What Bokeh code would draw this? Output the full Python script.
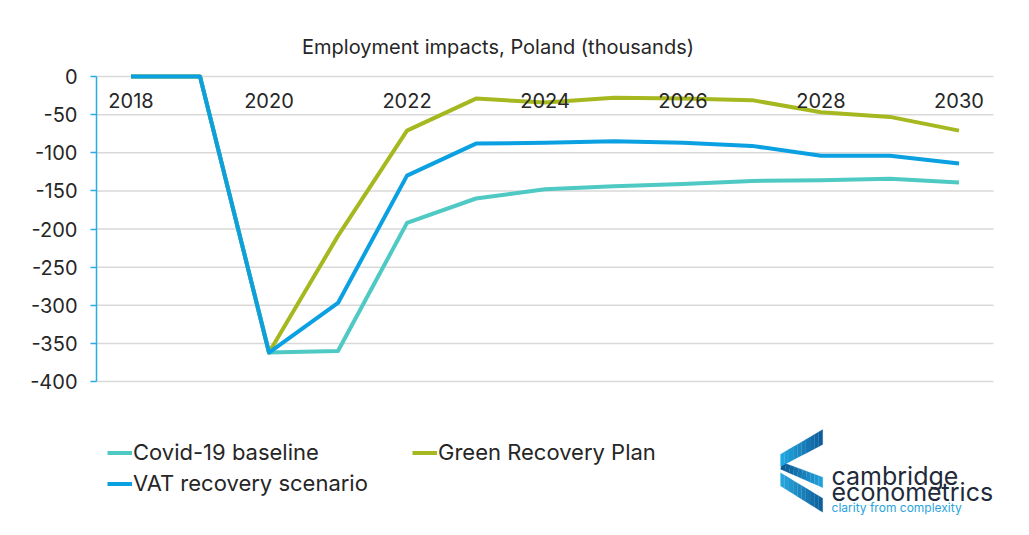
from bokeh.plotting import figure
from bokeh.models import (Range1d, FixedTicker, Legend, LegendItem, Label,
                          PolyAnnotation, ColumnDataSource)
from bokeh.embed import file_html
from bokeh.resources import INLINE

# ---------------- data ----------------
years = [2018, 2019, 2020, 2021, 2022, 2023, 2024, 2025, 2026, 2027, 2028, 2029, 2030]
covid = [0, 0, -362, -360, -192, -160, -148, -144, -141, -137, -136, -134, -139]
green = [0, 0, -362, -209, -71, -29, -34, -28, -29, -31, -47, -53, -71]
vat = [0, 0, -362, -297, -130, -88, -87, -85, -87, -91, -104, -104, -114]
series_names = ["Covid-19 baseline", "Green Recovery Plan", "VAT recovery scenario"]
x_ticks = [2018, 2020, 2022, 2024, 2026, 2028, 2030]
y_ticks = [-400, -350, -300, -250, -200, -150, -100, -50, 0]
title_text = "Employment impacts, Poland (thousands)"
logo_name = ["cambridge", "econometrics"]
logo_tagline = "clarity from complexity"

# ---------------- style ----------------
FONT = "Inter"
TEXT = "#262626"
TEAL = "#4EC9C3"
GREEN = "#A6B81F"
BLUE = "#0AA0E2"
AXIS = "#2AABE8"
GRID = "#D9D9D9"

W, H = 1013, 519
PX_LEFT, PX_RIGHT = 96, 993
PY_TOP, PY_BOTTOM = 76, 381          # value 0 and value -400

x_lo, x_hi = years[0] - 0.5, years[-1] + 0.5
y_lo, y_hi = min(y_ticks), max(y_ticks)
PXX = (PX_RIGHT - PX_LEFT) / (x_hi - x_lo)
PXY = (PY_BOTTOM - PY_TOP) / (y_hi - y_lo)

def dx(px):
    return x_lo + (px - PX_LEFT) / PXX

def dy(py):
    return y_hi - (py - PY_TOP) / PXY

p = figure(width=W, height=H, output_backend="svg", toolbar_location=None,
           x_range=Range1d(dx(0), dx(W)), y_range=Range1d(dy(H), dy(0)),
           min_border=0, min_border_left=0, min_border_right=0,
           min_border_top=0, min_border_bottom=0,
           background_fill_color="white", border_fill_color="white",
           outline_line_color=None)
p.title = None

p.xaxis.fixed_location = 0
p.xaxis.bounds = (x_lo, x_hi)
p.xaxis.ticker = FixedTicker(ticks=x_ticks)
p.xaxis.major_label_overrides = {t: str(t) for t in x_ticks}
p.xaxis.axis_line_color = None
p.xaxis.major_tick_in = 0
p.xaxis.major_tick_out = 0
p.xaxis.major_tick_line_color = None
p.xaxis.minor_tick_line_color = None
p.xaxis.major_label_standoff = 16
p.xaxis.major_label_text_font = FONT
p.xaxis.major_label_text_font_size = "20px"
p.xaxis.major_label_text_color = TEXT

p.yaxis.fixed_location = x_lo
p.yaxis.bounds = (y_lo, y_hi)
p.yaxis.ticker = FixedTicker(ticks=y_ticks)
p.yaxis.major_label_overrides = {t: str(t) for t in y_ticks}
p.yaxis.axis_line_color = AXIS
p.yaxis.axis_line_width = 1.5
p.yaxis.major_tick_in = 0
p.yaxis.major_tick_out = 6
p.yaxis.major_tick_line_color = AXIS
p.yaxis.major_tick_line_width = 1.5
p.yaxis.minor_tick_line_color = None
p.yaxis.major_label_standoff = 13
p.yaxis.major_label_text_font = FONT
p.yaxis.major_label_text_font_size = "20px"
p.yaxis.major_label_text_color = TEXT

p.xgrid.visible = False
p.ygrid.visible = False
p.segment(x0=[x_lo] * len(y_ticks), x1=[x_hi] * len(y_ticks), y0=y_ticks, y1=y_ticks,
          line_color=GRID, line_width=1.5, level="underlay")

src = ColumnDataSource(dict(year=years, covid=covid, green=green, vat=vat))
r_c = p.line("year", "covid", source=src, line_color=TEAL, line_width=4, line_join="round")
r_g = p.line("year", "green", source=src, line_color=GREEN, line_width=4, line_join="round")
r_v = p.line("year", "vat", source=src, line_color=BLUE, line_width=4, line_join="round")

ITEM_H = 27

def style_legend(lg):
    lg.label_text_font = FONT
    lg.label_text_font_size = "22px"
    lg.label_text_color = TEXT
    lg.glyph_width = 25
    lg.glyph_height = ITEM_H
    lg.label_height = ITEM_H
    lg.label_standoff = 1
    lg.spacing = 4
    lg.padding = 0
    lg.margin = 0
    lg.border_line_color = None
    lg.background_fill_alpha = 0

LEG_TOP = 438.5
leg1 = Legend(items=[LegendItem(label=series_names[0], renderers=[r_c]),
                     LegendItem(label=series_names[2], renderers=[r_v])],
              location=(107, H - (LEG_TOP + 2 * ITEM_H + 4)), orientation="vertical")
leg2 = Legend(items=[LegendItem(label=series_names[1], renderers=[r_g])],
              location=(412, H - (LEG_TOP + ITEM_H)), orientation="vertical")
style_legend(leg1)
style_legend(leg2)
p.add_layout(leg1)
p.add_layout(leg2)

p.add_layout(Label(x=dx(497.5), y=dy(46), text=title_text, text_align="center",
                   text_baseline="alphabetic", text_font=FONT, text_font_size="20px",
                   text_color=TEXT))

# ---------------- logo (scaled a little so it fits the canvas) ----------------
LX0, LY0, LS, LYT = 780, 440, 0.88, 430

def lx(x):
    return LX0 + (x - LX0) * LS

def ly(y):
    return LYT + (y - LY0) * LS

def hexrgb(h):
    h = h.lstrip("#")
    return tuple(int(h[i:i + 2], 16) for i in (0, 2, 4))

def mix(c1, c2, t):
    a, b = hexrgb(c1), hexrgb(c2)
    return "#%02x%02x%02x" % tuple(round(a[i] + (b[i] - a[i]) * t) for i in range(3))

def band(lt, rt, rb, lb, c_left, c_right, n=10):
    for i in range(n):
        t0, t1 = i / n, (i + 1) / n
        def pt(a, b, t):
            return (a[0] + (b[0] - a[0]) * t, a[1] + (b[1] - a[1]) * t)
        q = [pt(lt, rt, t0), pt(lt, rt, t1), pt(lb, rb, t1), pt(lb, rb, t0)]
        col = mix(c_left, c_right, (t0 + t1) / 2)
        p.add_layout(PolyAnnotation(xs=[dx(lx(a)) for a, b in q], ys=[dy(ly(b)) for a, b in q],
                                    fill_color=col, fill_alpha=1.0,
                                    line_color=col, line_width=0.6))

band((780, 488), (828, 517), (828, 533), (780, 503), "#29A9E1", "#0C5C97")
band((782, 476), (828, 493), (828, 505), (780, 484), "#0B5690", "#22A3DE")
band((780, 467), (828, 439), (828, 456), (780, 481), "#22ABE4", "#0E5A98")

p.add_layout(Label(x=dx(lx(838)), y=dy(ly(492)), text=logo_name[0], text_align="left",
                   text_baseline="alphabetic", text_font=FONT, text_font_size="25px",
                   text_color="#1F2B3A"))
p.add_layout(Label(x=dx(lx(838)), y=dy(ly(510)), text=logo_name[1], text_align="left",
                   text_baseline="alphabetic", text_font=FONT, text_font_size="25px",
                   text_color="#1F2B3A"))
p.add_layout(Label(x=dx(lx(838)), y=dy(507), text=logo_tagline, text_align="left",
                   text_baseline="alphabetic", text_font=FONT, text_font_size="12px",
                   text_color="#2AA3DC"))

open("out.html", "w").write(file_html(p, INLINE))
